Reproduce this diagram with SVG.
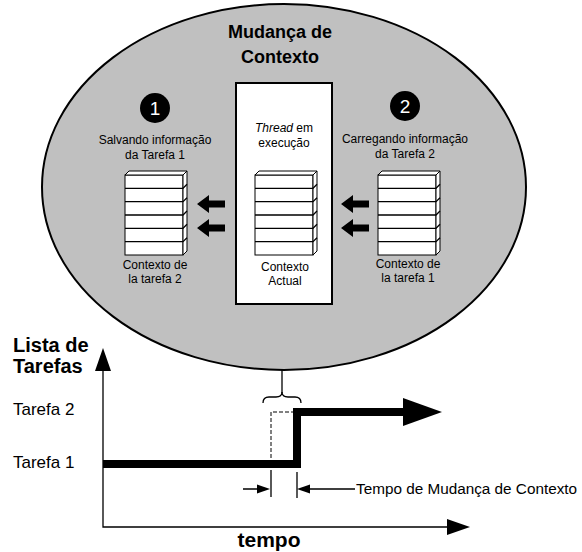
<svg xmlns="http://www.w3.org/2000/svg" width="582" height="552" viewBox="0 0 582 552">
<style>
text{font-family:"Liberation Sans",Arial,sans-serif;fill:#000}
.s{font-size:12px}
.t{font-size:17px}
.b{font-weight:bold}
.ln{fill:none;stroke:#000;stroke-width:1.3}
.stk{fill:#fff;stroke:#000;stroke-width:1}
.blk{fill:#000}
</style>
<defs>
<g id="stack">
<rect class="stk" x="0" y="4" width="58" height="80"/>
<polygon class="stk" points="0,4 4,0 62,0 58,4"/>
<polygon class="stk" points="58,4 62,0 62,80 58,84"/>
<path class="ln" stroke-width="1" d="M0 17.3H58L62 13.3M0 30.7H58L62 26.7M0 44H58L62 40M0 57.3H58L62 53.3M0 70.7H58L62 66.7"/>
</g>
<g id="larr">
<polygon class="blk" points="0,0 12,-9 12,-3.5 28,-3.5 28,3.5 12,3.5 12,9"/>
</g>
</defs>
<g id="context-switch">
<ellipse cx="284" cy="187" rx="242" ry="183" fill="#c0c0c0" stroke="#000" stroke-width="2"/>
<text class="b" font-size="18" x="280" y="38" text-anchor="middle">Mudança de</text>
<text class="b" font-size="18" x="280" y="63" text-anchor="middle">Contexto</text>
</g>
<g id="step1">
<circle cx="155" cy="108" r="15" fill="#000"/>
<text font-size="19" style="fill:#fff" x="155" y="115" text-anchor="middle">1</text>
<text class="s" x="155" y="144" text-anchor="middle">Salvando informação</text>
<text class="s" x="155" y="159" text-anchor="middle">da Tarefa 1</text>
</g>
<g id="ctx-task2">
<use href="#stack" x="125" y="171"/>
<text class="s" x="155" y="269" text-anchor="middle">Contexto de</text>
<text class="s" x="155" y="283" text-anchor="middle">la tarefa 2</text>
</g>
<g id="running-thread">
<rect x="236" y="83" width="96" height="221" fill="#fff" stroke="#000" stroke-width="2"/>
<text class="s" x="284" y="132" text-anchor="middle"><tspan font-style="italic">Thread</tspan> em</text>
<text class="s" x="284" y="147" text-anchor="middle">execução</text>
<use href="#stack" x="255" y="171"/>
<text class="s" x="285" y="271" text-anchor="middle">Contexto</text>
<text class="s" x="285" y="285" text-anchor="middle">Actual</text>
</g>
<g id="step2">
<circle cx="405" cy="106" r="15" fill="#000"/>
<text font-size="19" style="fill:#fff" x="405" y="113" text-anchor="middle">2</text>
<text class="s" x="405" y="143" text-anchor="middle">Carregando informação</text>
<text class="s" x="405" y="158" text-anchor="middle">da Tarefa 2</text>
</g>
<g id="ctx-task1">
<use href="#stack" x="378" y="171"/>
<text class="s" x="408" y="268" text-anchor="middle">Contexto de</text>
<text class="s" x="408" y="282" text-anchor="middle">la tarefa 1</text>
</g>
<g id="connectors">
<use href="#larr" x="197" y="204"/>
<use href="#larr" x="197" y="228"/>
<use href="#larr" x="341" y="204"/>
<use href="#larr" x="341" y="228"/>
<line class="ln" x1="282" y1="370" x2="282" y2="393"/>
<path class="ln" d="M263 403Q263 397 269 397H276Q282 397 282 392Q282 397 288 397H295Q301 397 301 403"/>
<path class="ln" stroke-width="1.8" d="M103 370V527H450"/>
<polygon class="blk" points="103,348 95,371 111,371"/>
<polygon class="blk" points="470,527 447,519 447,535"/>
<path fill="none" stroke="#000" stroke-width="8" stroke-linejoin="miter" d="M103 464H297V412H404"/>
<polygon class="blk" points="403,398 442,412 403,426"/>
<path fill="none" stroke="#000" stroke-width="1" stroke-dasharray="4,2" d="M271 464V412H293"/>
<path class="ln" stroke-width="1" d="M271 470V497M297 472V498M243 489H260M355 489H310"/>
<polygon class="blk" points="270,489 257,484.5 257,493.5"/>
<polygon class="blk" points="297,489 310,484.5 310,493.5"/>
</g>
<g id="axes-labels">
<text class="b" font-size="20" x="13" y="352">Lista de</text>
<text class="b" font-size="20" x="13" y="373">Tarefas</text>
<text class="t" x="13" y="415">Tarefa 2</text>
<text class="t" x="13" y="468">Tarefa 1</text>
<text font-size="15.3" x="356" y="494">Tempo de Mudança de Contexto</text>
<text class="b" font-size="21" x="269" y="547" text-anchor="middle">tempo</text>
</g>
</svg>
